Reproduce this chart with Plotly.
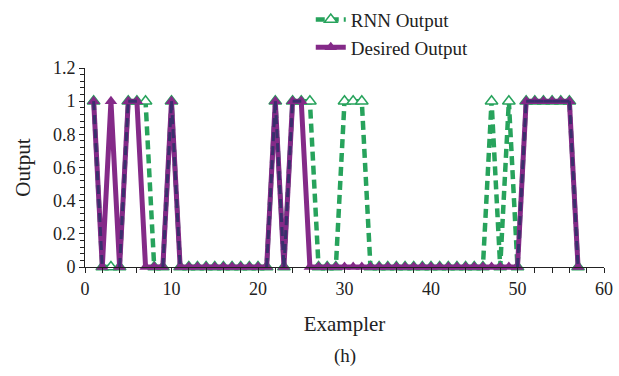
import numpy as np
import plotly.graph_objects as go

exampler = list(range(1, 58))
desired = [1, 0, 1, 0, 1, 1, 0, 0, 0, 1,
           0, 0, 0, 0, 0, 0, 0, 0, 0, 0, 0,
           1, 0, 1, 1,
           0, 0, 0, 0, 0, 0, 0, 0, 0, 0, 0, 0, 0, 0, 0, 0, 0, 0, 0, 0, 0, 0, 0, 0, 0,
           1, 1, 1, 1, 1, 1, 0]
rnn = [1, 0, 0, 0, 1, 1, 1, 0, 0, 1,
       0, 0, 0, 0, 0, 0, 0, 0, 0, 0, 0,
       1, 0, 1, 1, 1, 0, 0, 0, 1, 1, 1,
       0, 0, 0, 0, 0, 0, 0, 0, 0, 0, 0, 0, 0, 0, 1, 0, 1, 0,
       1, 1, 1, 1, 1, 1, 0]

GREEN = "#27a35c"
PURPLE = "#842a88"
DARK = "#3a2f6c"

# overlap segments (where both series coincide) -> dark dashes over purple
ox, oy = [], []
for i in range(len(exampler) - 1):
    if rnn[i] == desired[i] and rnn[i + 1] == desired[i + 1] and (desired[i] != desired[i + 1] or desired[i] == 1):
        ox += [exampler[i], exampler[i + 1], None]
        oy += [desired[i], desired[i + 1], None]

fig = go.Figure()
fig.add_trace(go.Scatter(
    x=exampler, y=rnn, name="RNN Output", mode="lines+markers",
    line=dict(color=GREEN, width=4.5, dash="9px,5px"),
    marker=dict(symbol="triangle-up", size=11, color="white",
                line=dict(color=GREEN, width=1.5)),
    cliponaxis=False))
fig.add_trace(go.Scatter(
    x=exampler, y=desired, name="Desired Output", mode="lines+markers",
    line=dict(color=PURPLE, width=5),
    marker=dict(symbol="triangle-up", size=11, color=PURPLE),
    cliponaxis=False))
fig.add_trace(go.Scatter(
    x=ox, y=oy, mode="lines", showlegend=False, hoverinfo="skip",
    line=dict(color=DARK, width=3, dash="9px,5px"),
    cliponaxis=False))

font_family = "Liberation Serif"
fig.update_layout(
    width=619, height=376,
    margin=dict(l=85, r=15, t=68, b=109, autoexpand=False),
    paper_bgcolor="white", plot_bgcolor="white",
    font=dict(family=font_family, size=18, color="#222"),
    showlegend=True,
    legend=dict(x=0.435, y=0.998, xanchor="left", yanchor="top", yref="container",
                font=dict(family=font_family, size=19, color="#222"),
                bgcolor="rgba(0,0,0,0)", tracegroupgap=0),
    xaxis=dict(range=[0, 60], dtick=10, tick0=0, showline=True, linecolor="#222",
               linewidth=1, ticks="outside", ticklen=5, tickcolor="#222",
               minor=dict(dtick=2, ticks="outside", ticklen=5, tickcolor="#222"),
               showgrid=False, zeroline=False,
               title=dict(text="Exampler", font=dict(size=21), standoff=18),
               tickfont=dict(size=18)),
    yaxis=dict(range=[0, 1.2], dtick=0.2, tick0=0, showline=True, linecolor="#222",
               linewidth=1, ticks="outside", ticklen=5, tickcolor="#222",
               minor=dict(dtick=0.04, ticks="outside", ticklen=4, tickcolor="#222"),
               showgrid=False, zeroline=False,
               title=dict(text="Output", font=dict(size=21), standoff=16),
               tickfont=dict(size=18)),
    annotations=[dict(text="(h)", x=0.5, y=-0.447, xref="paper", yref="paper",
                      yanchor="middle", showarrow=False,
                      font=dict(family=font_family, size=19))],
)

fig.write_html("out.html")
